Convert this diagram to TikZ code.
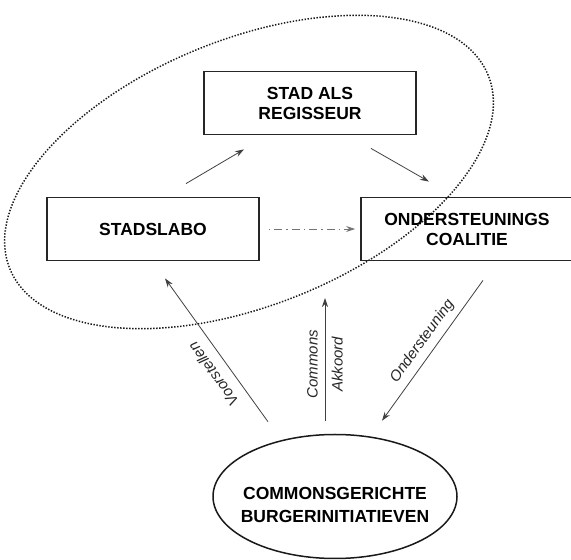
\documentclass[tikz,border=0pt]{standalone}
\usepackage{fontspec}
\setmainfont{Liberation Sans}
\usetikzlibrary{arrows.meta,shapes.geometric}
\def\kop{\bfseries\fontsize{17.5}{20}\selectfont}
\def\lbl{\itshape\fontsize{15}{25}\selectfont}
\tikzset{
  blok/.style={draw=black!85,line width=1.8pt,minimum width=212pt,minimum height=63pt,align=center,font=\kop},
  ovaal/.style={ellipse,draw=black!90,line width=1.5pt,minimum width=244pt,minimum height=124pt,inner sep=0pt},
  pijl/.style={draw=black!75,line width=0.8pt,-{Stealth[length=9pt,width=6pt]}},
  tekst/.style={font=\lbl,text=black!85},
}

\begin{document}
\begin{tikzpicture}[x=1pt,y=1pt]
  \useasboundingbox (0,0) rectangle (571,560);
  \clip (0,0) rectangle (571,560);
  \draw[black!90,line width=1.5pt,dash pattern=on 1.4pt off 1.6pt,rotate around={22:(249,388)}]
    (249,388) ellipse [x radius=258, y radius=133];
  \node[blok] (regie) at (310,457) {STAD ALS\\REGISSEUR};
  \node[blok] (labo) at (153,331) {STADSLABO};
  \node[blok] (coal) at (467,331) {ONDERSTEUNINGS\\COALITIE};
  \node[ovaal] (burger) at (335,63.5) {};
  \node[align=center,font=\bfseries\fontsize{17.5}{23}\selectfont] (burgertekst)
    at ([yshift=-8pt]burger.center) {COMMONSGERICHTE\\BURGERINITIATIEVEN};
  \coordinate (akk) at (325,262);
  \draw[pijl] ([xshift=33pt,yshift=13pt]labo.north) -- ([xshift=-66pt,yshift=-14pt]regie.south);
  \draw[pijl] ([xshift=61pt,yshift=-13pt]regie.south) -- ([xshift=-38pt,yshift=15pt]coal.north);
  \draw[pijl,draw=black!55,dash pattern=on 1.5pt off 4pt on 8pt off 4pt] ([xshift=9pt]labo.east) -- ([xshift=-5pt]coal.west);
  \draw[pijl] ([xshift=-67pt,yshift=12pt]burger.north) -- ([xshift=12pt,yshift=-17pt]labo.south)
    node[tekst,pos=0.4,sloped,allow upside down,above=7.5pt] {Voorstellen};
  \draw[pijl] ([xshift=16pt,yshift=-19pt]coal.south) -- ([xshift=47pt,yshift=13pt]burger.north)
    node[tekst,pos=0.49,sloped,above=3pt] {Ondersteuning};
  \draw[pijl,{Stealth[length=9pt,width=6pt]}-] (akk) -- ([xshift=-10pt,yshift=13pt]burger.north)
    node[tekst,pos=0.54,rotate=90,align=center] {Commons\\Akkoord};
\end{tikzpicture}
\end{document}
